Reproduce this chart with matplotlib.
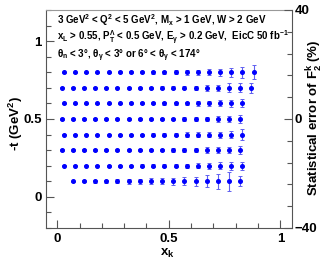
import numpy as np
import matplotlib
matplotlib.use("Agg")
import matplotlib.pyplot as plt
from matplotlib.ticker import MultipleLocator, FormatStrFormatter

plt.rcParams["font.family"] = ["Liberation Sans", "DejaVu Sans"]
plt.rcParams["font.weight"] = "bold"
plt.rcParams["mathtext.default"] = "regular"

# -t bins (GeV^2)
t_bins = [0.8, 0.7, 0.6, 0.5, 0.4, 0.3, 0.2, 0.1]

# x_k bin centres for each -t row
xk_rows = [
    [0.03, 0.08, 0.13, 0.18, 0.23, 0.28, 0.33, 0.38, 0.43, 0.48, 0.53, 0.58, 0.63, 0.68, 0.73, 0.78, 0.83, 0.88],
    [0.02, 0.07, 0.12, 0.17, 0.22, 0.27, 0.32, 0.37, 0.42, 0.47, 0.52, 0.57, 0.62, 0.67, 0.72, 0.77, 0.82, 0.87],
    [0.03, 0.08, 0.13, 0.18, 0.23, 0.28, 0.33, 0.38, 0.43, 0.48, 0.53, 0.58, 0.63, 0.68, 0.73, 0.78, 0.83],
    [0.02, 0.07, 0.12, 0.17, 0.22, 0.27, 0.32, 0.37, 0.42, 0.47, 0.52, 0.57, 0.62, 0.67, 0.72, 0.77, 0.82],
    [0.03, 0.08, 0.13, 0.18, 0.23, 0.28, 0.33, 0.38, 0.43, 0.48, 0.53, 0.58, 0.63, 0.68, 0.73, 0.78, 0.83],
    [0.02, 0.07, 0.12, 0.17, 0.22, 0.27, 0.32, 0.37, 0.42, 0.47, 0.52, 0.57, 0.62, 0.67, 0.72, 0.77, 0.82],
    [0.03, 0.08, 0.13, 0.18, 0.23, 0.28, 0.33, 0.38, 0.43, 0.48, 0.53, 0.58, 0.63, 0.68, 0.73, 0.78, 0.83],
    [0.07, 0.12, 0.17, 0.22, 0.27, 0.32, 0.37, 0.42, 0.47, 0.52, 0.57, 0.62, 0.67, 0.72, 0.77, 0.82],
]

# statistical error of F2^k (%) per point
err_rows = [
    [0.25, 0.25, 0.25, 0.25, 0.25, 0.37, 0.37, 0.37, 0.5, 0.6, 0.75, 0.85, 1.0, 1.1, 1.2, 1.6, 2.0, 2.5],
    [0.25, 0.25, 0.25, 0.25, 0.25, 0.25, 0.37, 0.37, 0.37, 0.5, 0.5, 0.6, 0.75, 1.0, 1.2, 1.6, 1.6, 1.85],
    [0.25, 0.25, 0.25, 0.25, 0.25, 0.25, 0.37, 0.37, 0.37, 0.5, 0.5, 0.6, 0.85, 1.0, 1.1, 1.2, 1.5],
    [0.25, 0.25, 0.25, 0.25, 0.25, 0.25, 0.37, 0.37, 0.37, 0.5, 0.5, 0.6, 0.75, 0.85, 1.1, 1.2, 1.5],
    [0.25, 0.25, 0.25, 0.25, 0.25, 0.37, 0.37, 0.37, 0.5, 0.5, 0.6, 0.75, 0.85, 1.0, 1.1, 1.2, 1.85],
    [0.25, 0.25, 0.25, 0.25, 0.25, 0.37, 0.37, 0.37, 0.5, 0.5, 0.6, 0.75, 0.75, 1.0, 1.1, 1.2, 1.5],
    [0.25, 0.25, 0.25, 0.25, 0.37, 0.37, 0.37, 0.5, 0.5, 0.5, 0.6, 0.75, 1.0, 1.1, 1.2, 1.5, 1.5],
    [0.25, 0.37, 0.5, 0.6, 0.75, 0.85, 1.0, 1.1, 1.2, 1.35, 1.5, 1.6, 2.2, 2.7, 3.45, 1.85],
]

# right axis: -40..40 % spans -0.2..1.2 on the left axis
pct_per_unit = 80 / 1.4

fig = plt.figure(figsize=(3.31, 2.62), dpi=100)
ax = fig.add_axes([0.139, 0.130, 0.742, 0.832])

for t, xs, es in zip(t_bins, xk_rows, err_rows):
    yerr = np.array(es) / pct_per_unit
    ax.errorbar(xs, [t] * len(xs), yerr=yerr, fmt="o", color="#0000ff",
                markersize=2.6, ecolor="#6060f0", elinewidth=0.8,
                capsize=1.2, capthick=0.7)

ax.set_xlim(-0.05, 1.05)
ax.set_ylim(-0.2, 1.2)
ax.xaxis.set_major_locator(MultipleLocator(0.5))
ax.xaxis.set_minor_locator(MultipleLocator(0.1))
ax.yaxis.set_major_locator(MultipleLocator(0.5))
ax.yaxis.set_minor_locator(MultipleLocator(0.1))
ax.xaxis.set_major_formatter(FormatStrFormatter("%g"))
ax.yaxis.set_major_formatter(FormatStrFormatter("%g"))
ax.tick_params(which="both", direction="in", labelsize=9.5, top=False, right=False,
               color="#555555", width=0.8)
ax.tick_params(which="major", length=6)
ax.tick_params(which="minor", length=3.5)
ax.tick_params(axis="x", pad=4)
ax.tick_params(axis="y", pad=3)
for s in ax.spines.values():
    s.set_color("#555555")
    s.set_linewidth(0.8)
ax.spines["top"].set_color("#999999")
ax.spines["right"].set_visible(False)

ax2 = ax.twinx()
ax2.set_ylim(-40, 40)
ax2.yaxis.set_major_locator(MultipleLocator(40))
ax2.yaxis.set_minor_locator(MultipleLocator(8))
ax2.tick_params(which="both", direction="in", labelsize=9.5, color="#555555", width=0.8, pad=2)
ax2.tick_params(which="major", length=6)
ax2.tick_params(which="minor", length=3.5)
for side in ["top", "left", "bottom"]:
    ax2.spines[side].set_visible(False)
ax2.spines["right"].set_color("#555555")
ax2.spines["right"].set_linewidth(0.8)

fig.text(0.505, 0.034, "x$_k$", fontsize=9.5, fontweight="bold", ha="center", va="center")
fig.text(0.048, 0.53, "-t (GeV$^2$)", fontsize=9.5, fontweight="bold",
         ha="center", va="center", rotation=90)
fig.text(0.952, 0.55, "Statistical error of F$_2^k$ (%)", fontsize=9.5, fontweight="bold",
         ha="center", va="center", rotation=90)

hdr = dict(fontsize=7, fontweight="bold", transform=ax.transData, va="center", ha="left")
ax.text(0.0, 1.137, "3 GeV$^2$ < Q$^2$ < 5 GeV$^2$, M$_x$ > 1 GeV, W > 2 GeV", **hdr)
ax.text(0.0, 1.02, "x$_L$ > 0.55, P$_T^\\Lambda$ < 0.5 GeV, E$_\\gamma$ > 0.2 GeV,  EicC 50 fb$^{-1}$", **hdr)
ax.text(0.0, 0.905, "$\\theta_n$ < 3°, $\\theta_\\gamma$ < 3° or 6° < $\\theta_\\gamma$ < 174°", **hdr)

fig.savefig("out.png", dpi=100)
